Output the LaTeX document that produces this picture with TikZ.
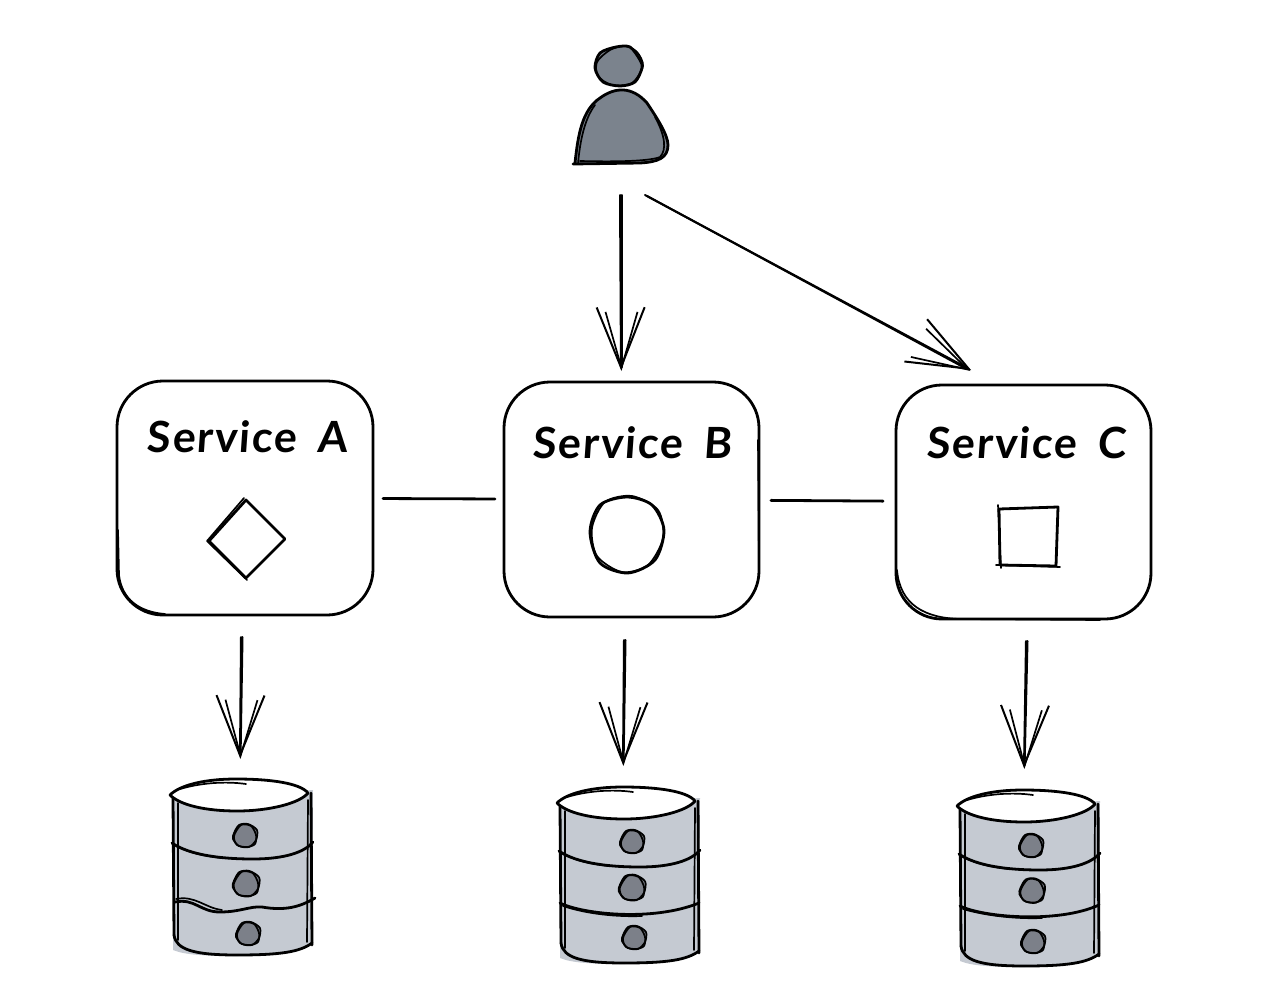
\documentclass[tikz,border=0pt]{standalone}
\usepackage{fontspec}
\setmainfont{Lato}[LetterSpace=4,WordSpace=1.7]
\usetikzlibrary{arrows.meta}
\definecolor{drumgray}{HTML}{C5CAD2}
\definecolor{personfill}{HTML}{7B838D}
\definecolor{holefill}{HTML}{7C8089}
\tikzset{
	pen/.style={line width=2.8pt,line cap=round,line join=round},
	thin pen/.style={line width=1.7pt,line cap=round,line join=round},
	handarrow/.style={line width=2pt,line cap=round,line join=round,-{Straight Barb[length=60pt,width=48pt,line width=2pt]}},
	handarrow2/.style={line width=2pt,line cap=round,line join=round,-{Straight Barb[length=56pt,width=32pt,line width=1.7pt]}},
	service/.style={draw,pen,fill=white,rounded corners=46pt,inner sep=0pt,outer sep=0pt},
	blank/.style={inner sep=0pt,outer sep=0pt},
	servicename/.style={blank,font=\fontsize{43}{43}\selectfont\bfseries\addfontfeature{FakeSlant=0.07}}
}
% a hole of a drum, centre and size
\newcommand{\hole}[3]{%
	\draw[thin pen,fill=holefill,shift={(#1,#2)},scale=#3] plot[smooth cycle] coordinates {(-11,-2) (-6,-10) (3,-11) (12,-5) (11,5) (4,12) (-6,11) (-12,4)};
	\draw[thin pen,shift={(#1+1,#2+1)},scale=#3] plot[smooth cycle] coordinates {(-12,0) (-5,-11) (5,-10) (10,-1) (9,8) (1,11) (-9,9)};
}
% one drum of the storage row, #1 is its shift and #2 its lower band
\newcommand{\drum}[2]{%
	\begin{scope}[shift={(#1)}]
		\fill[drumgray] (173,800) -- (313,790) -- (312,945) .. controls (295,953) and (265,956) .. (237,956) .. controls (205,956) and (185,955) .. (173,950) -- cycle;
		\draw[pen,fill=white] (170,795) .. controls (180,785) and (205,779) .. (236,779) .. controls (270,779) and (300,783) .. (308,793) .. controls (300,803) and (270,811) .. (237,811) .. controls (205,811) and (180,805) .. (170,795);
		\draw[thin pen] (180,789) .. controls (200,783) and (225,781) .. (246,784);
		\draw[pen] (311,793) -- (312,945);
		\draw[thin pen] (308,800) -- (307,942);
		\draw[pen] (173,798) -- (174,935);
		\draw[thin pen] (178,803) -- (178,940);
		\draw[pen] (174,935) .. controls (176,950) and (195,955) .. (237,955) .. controls (280,955) and (300,952) .. (312,943);
		\draw[pen] (172,843) .. controls (185,852) and (210,859) .. (253,859) .. controls (285,859) and (305,852) .. (313,842);
		\draw[thin pen] (176,846) .. controls (190,853) and (205,856) .. (222,858);
		#2
	\end{scope}
}
\begin{document}
\begin{tikzpicture}[x=1pt,y=-1pt]%user, services and storage
	\useasboundingbox (0,0) rectangle (1280,1006);
	% user
	\node[blank,minimum width=94pt,minimum height=120pt] (user) at (621,105) {};
	\draw[pen,fill=personfill] (575,163) .. controls (578,135) and (582,110) .. (600,98) .. controls (615,87) and (632,86) .. (647,103) .. controls (657,118) and (668,135) .. (668,145) .. controls (668,158) and (658,162) .. (640,163) -- (573,164);
	\draw[thin pen] (578,164) .. controls (580,140) and (585,118) .. (595,105);
	\draw[thin pen] (655,117) .. controls (665,135) and (667,150) .. (660,157) .. controls (650,161) and (620,162) .. (580,161);
	\draw[pen,fill=personfill] plot[smooth cycle] coordinates {(595,68) (600,53) (616,47) (630,47) (640,60) (642,68) (635,82) (620,86) (603,82)};
	\draw[thin pen] plot[smooth cycle] coordinates {(597,62) (610,50) (625,46) (637,52) (643,66) (632,83) (612,85) (598,76)};
	% services
	\node[service,minimum width=256pt,minimum height=234pt] (svcA) at (245,498) {};
	\node[service,minimum width=255pt,minimum height=235pt] (svcB) at (631.5,499.5) {};
	\node[service,minimum width=255pt,minimum height=234pt] (svcC) at (1023.5,502) {};
	\draw[thin pen] (118,530) -- (119,575) .. controls (122,600) and (140,612) .. (165,614);
	\draw[thin pen] (758,440) -- (759,560);
	\draw[thin pen] (897,570) .. controls (900,605) and (925,618) .. (960,619) -- (1100,620);
	\node[servicename] (nameA) at (247,437) {Service A};
	\node[servicename] (nameB) at (632,443) {Service B};
	\node[servicename] (nameC) at (1026,443) {Service C};
	\draw[pen] (246,500) -- (285,539) -- (246,578) -- (209,541) -- cycle;
	\draw[thin pen] (244,498) -- (207,541) -- (247,580);
	\draw[pen] plot[smooth cycle] coordinates {(590,532) (600,505) (627,497) (652,505) (664,530) (655,560) (628,573) (600,563)};
	\draw[thin pen] plot[smooth cycle] coordinates {(592,528) (605,502) (632,496) (658,510) (663,538) (648,565) (622,572) (597,556)};
	\draw[pen] (999,509) -- (1058,507) -- (1056,566) -- (1000,565) -- cycle;
	\draw[thin pen] (998,505) -- (1001,568);
	\draw[thin pen] (996,565) -- (1060,567);
	% connectors
	\draw[pen,shorten <=10pt,shorten >=9pt] (svcA) -- (svcB);
	\draw[pen,shorten <=12pt,shorten >=13pt] (svcB) -- (svcC);
	\draw[handarrow] ([xshift=-1pt,yshift=-30pt]user.south) -- ([xshift=-10.5pt,yshift=12pt]svcB.north);
	\draw[handarrow2] ([xshift=0.5pt,yshift=-30pt]user.south) -- ([xshift=-10pt,yshift=11pt]svcB.north);
	\draw[handarrow] ([xshift=24pt,yshift=-30pt]user.south) -- ([xshift=-52.5pt,yshift=15pt]svcC.north);
	\draw[handarrow2] ([xshift=26pt,yshift=-31pt]user.south) -- ([xshift=-53pt,yshift=14pt]svcC.north);
	% storage
	\node[blank,minimum width=142pt,minimum height=176pt] (dbA) at (241,868) {};
	\node[blank,minimum width=142pt,minimum height=176pt] (dbB) at (627,875) {};
	\node[blank,minimum width=142pt,minimum height=176pt] (dbC) at (1027,878) {};
	\drum{0,0}{\draw[pen] (175,902) .. controls (195,898) and (200,912) .. (220,912) .. controls (240,912) and (250,906) .. (262,907) .. controls (285,911) and (300,907) .. (315,898);
		\draw[thin pen] (176,899) .. controls (195,895) and (205,908) .. (222,910);}
	\drum{387,8}{\draw[pen] (173,895) .. controls (195,906) and (265,914) .. (312,895);
		\draw[thin pen] (176,898) .. controls (200,906) and (230,909) .. (255,908);}
	\drum{787,11}{\draw[pen] (173,895) .. controls (195,906) and (270,913) .. (312,894);
		\draw[thin pen] (176,898) .. controls (200,905) and (230,908) .. (255,907);}
	\hole{245}{835}{1}
	\hole{246}{883}{1.1}
	\hole{248}{933}{1}
	\hole{632}{841}{1}
	\hole{632}{887}{1.1}
	\hole{634}{937}{1}
	\hole{1031}{845}{1}
	\hole{1032}{890}{1.05}
	\hole{1033}{941}{1}
	\draw[handarrow] ([xshift=-4pt,yshift=-22pt]svcA.south) -- ([xshift=-1pt,yshift=22pt]dbA.north);
	\draw[handarrow2] ([xshift=-2.5pt,yshift=-22pt]svcA.south) -- ([xshift=-0.5pt,yshift=21pt]dbA.north);
	\draw[handarrow] ([xshift=-7.5pt,yshift=-23pt]svcB.south) -- ([xshift=-4pt,yshift=22pt]dbB.north);
	\draw[handarrow2] ([xshift=-6pt,yshift=-23pt]svcB.south) -- ([xshift=-3.5pt,yshift=21pt]dbB.north);
	\draw[handarrow] ([xshift=2.5pt,yshift=-22pt]svcC.south) -- ([xshift=-3pt,yshift=22pt]dbC.north);
	\draw[handarrow2] ([xshift=4pt,yshift=-22pt]svcC.south) -- ([xshift=-2.5pt,yshift=21pt]dbC.north);
\end{tikzpicture}
\end{document}
